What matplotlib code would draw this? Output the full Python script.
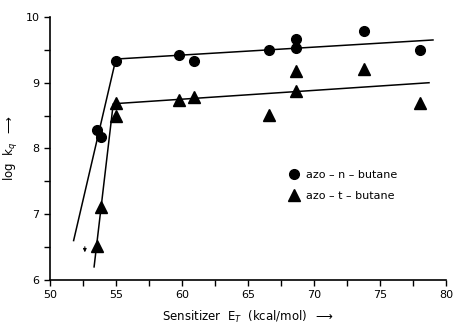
import matplotlib
matplotlib.use("Agg")
import matplotlib.pyplot as plt

plt.rcParams['font.family'] = ['DejaVu Sans']

# measured points
n_x = [53.55, 53.9, 55.0, 59.8, 60.9, 66.6, 68.6, 68.6, 73.8, 78.0]
n_y = [8.28, 8.18, 9.33, 9.42, 9.33, 9.49, 9.67, 9.53, 9.78, 9.49]
t_x = [53.55, 53.9, 55.0, 55.0, 59.8, 60.9, 66.6, 68.6, 68.6, 73.8, 78.0]
t_y = [6.51, 7.11, 8.49, 8.69, 8.74, 8.79, 8.51, 9.18, 8.87, 9.21, 8.69]

# drawn fit lines
fit_n_x = [51.8, 55.0, 79.0]
fit_n_y = [6.6, 9.36, 9.65]
fit_t_x = [53.35, 54.8, 78.7]
fit_t_y = [6.2, 8.68, 9.0]

# upper-limit arrow
lim_x = 52.65
lim_y = 6.5

fig = plt.figure(figsize=(4.53, 3.26), dpi=100)
ax = fig.add_axes([0.110, 0.141, 0.875, 0.807])

ax.plot(fit_n_x, fit_n_y, color="black", lw=1.1)
ax.plot(fit_t_x, fit_t_y, color="black", lw=1.1)

ax.plot(n_x, n_y, "o", color="black", ms=7, label="azo – n – butane")
ax.plot(t_x, t_y, "^", color="black", ms=8, label="azo – t – butane")

ax.annotate("", xy=(lim_x, lim_y - 0.12), xytext=(lim_x, lim_y + 0.05),
            arrowprops=dict(arrowstyle="-|>", color="black", lw=0.7,
                            mutation_scale=5))

ax.set_xlim(50, 80)
ax.set_ylim(6, 10)
ax.set_xticks([50, 55, 60, 65, 70, 75, 80])
ax.set_xticks([52.5, 57.5, 62.5, 67.5, 72.5, 77.5], minor=True)
ax.set_yticks([6, 7, 8, 9, 10])
ax.set_yticks([6.5, 7.5, 8.5, 9.5], minor=True)
ax.tick_params(labelsize=8, length=4, width=1)
ax.tick_params(which="minor", length=4, width=1)

for s in ["top", "right"]:
    ax.spines[s].set_visible(False)
for s in ["left", "bottom"]:
    ax.spines[s].set_linewidth(1.2)

ax.set_xlabel(r"Sensitizer  E$_T$  (kcal/mol)  $\longrightarrow$", fontsize=8.5,
              labelpad=6)
ax.set_ylabel(r"log  k$_q$  $\longrightarrow$", fontsize=8.5)
ax.yaxis.set_label_coords(-0.075, 0.5)

ax.legend(loc="center left", bbox_to_anchor=(0.575, 0.36), frameon=False,
          fontsize=8, handletextpad=0.4, labelspacing=0.95, handlelength=1.2)

fig.savefig("out.png", dpi=100)
